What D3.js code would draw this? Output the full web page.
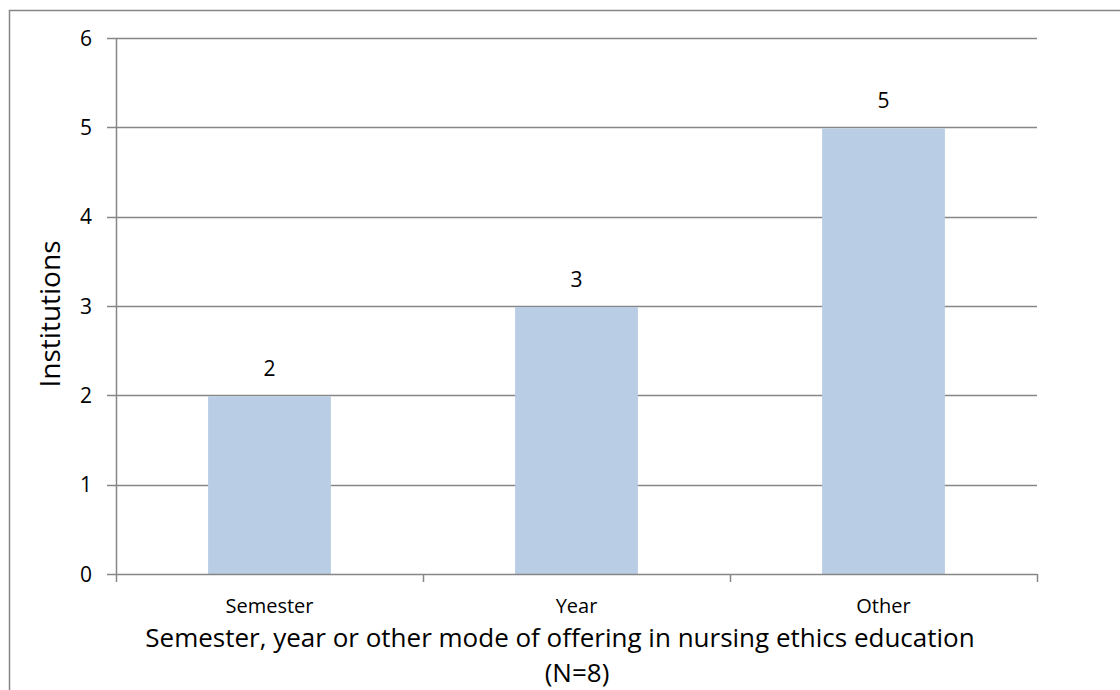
<!DOCTYPE html>
<html>
<head>
<meta charset="utf-8">
<script src="https://cdn.jsdelivr.net/npm/d3@7"></script>
<style>
  body { margin: 0; background: #fff; }
  svg text { font-family: "Open Sans", "Noto Sans", sans-serif; fill: #000; }
</style>
</head>
<body>
<div id="chart"></div>
<script>
var categories = ["Semester", "Year", "Other"];
var values = [2, 3, 5];
var yTicks = [0, 1, 2, 3, 4, 5, 6];
var xTitle = ["Semester, year or other mode of offering in nursing ethics education", "(N=8)"];
var yTitle = "Institutions";

var width = 1120, height = 690;
var margin = {top: 38, right: 83, bottom: 116, left: 116};

var svg = d3.select("#chart").append("svg")
    .attr("width", width)
    .attr("height", height);

// outer chart border (runs off the right and bottom edges)
svg.append("rect")
    .attr("x", 9.5).attr("y", 10.5)
    .attr("width", width + 20).attr("height", height + 20)
    .style("fill", "none")
    .style("stroke", "#868686")
    .style("stroke-width", 1.5);

var x = d3.scaleBand()
    .domain(categories)
    .range([margin.left, width - margin.right])
    .paddingInner(0.6)
    .paddingOuter(0.3);

var y = d3.scaleLinear()
    .domain([0, 6])
    .range([height - margin.bottom, margin.top]);

// gridlines
svg.append("g")
    .selectAll("line")
    .data(yTicks.filter(function(d){ return d > 0 }))
    .enter()
    .append("line")
      .attr("x1", margin.left - 9)
      .attr("x2", width - margin.right)
      .attr("y1", function(d){ return Math.round(y(d)) + 0.5 })
      .attr("y2", function(d){ return Math.round(y(d)) + 0.5 })
      .style("stroke", "#868686")
      .style("stroke-width", 1.5);

// bars
svg.selectAll("rect.bar")
    .data(values)
    .enter()
    .append("rect")
      .attr("class", "bar")
      .attr("x", function(d, i){ return x(categories[i]) })
      .attr("y", function(d){ return y(d) + 1 })
      .attr("width", x.bandwidth())
      .attr("height", function(d){ return y(0) - y(d) - 1 })
      .style("fill", "#B9CDE5");

// y axis line
svg.append("line")
    .attr("x1", margin.left + 0.5).attr("x2", margin.left + 0.5)
    .attr("y1", margin.top).attr("y2", y(0))
    .style("stroke", "#868686")
    .style("stroke-width", 1.5);

// x axis line
svg.append("line")
    .attr("x1", margin.left - 9).attr("x2", width - margin.right)
    .attr("y1", Math.round(y(0)) + 0.5).attr("y2", Math.round(y(0)) + 0.5)
    .style("stroke", "#868686")
    .style("stroke-width", 1.5);

// x ticks at category boundaries
var xBounds = [0, 1, 2, 3].map(function(i){ return margin.left + i * x.step() });
svg.append("g")
    .selectAll("line")
    .data(xBounds)
    .enter()
    .append("line")
      .attr("x1", function(d){ return Math.round(d) + 0.5 })
      .attr("x2", function(d){ return Math.round(d) + 0.5 })
      .attr("y1", y(0))
      .attr("y2", y(0) + 8)
      .style("stroke", "#868686")
      .style("stroke-width", 1.5);

// y tick labels
svg.append("g")
    .selectAll("text")
    .data(yTicks)
    .enter()
    .append("text")
      .attr("x", 92)
      .attr("y", function(d){ return y(d) })
      .attr("dy", "0.36em")
      .attr("text-anchor", "end")
      .attr("font-size", "21px")
      .text(function(d){ return d });

// category labels
svg.append("g")
    .selectAll("text")
    .data(categories)
    .enter()
    .append("text")
      .attr("x", function(d){ return x(d) + x.bandwidth() / 2 })
      .attr("y", 613)
      .attr("text-anchor", "middle")
      .attr("font-size", "20px")
      .text(function(d){ return d });

// value labels
svg.append("g")
    .selectAll("text")
    .data(values)
    .enter()
    .append("text")
      .attr("x", function(d, i){ return x(categories[i]) + x.bandwidth() / 2 })
      .attr("y", function(d){ return y(d) - 19 })
      .attr("text-anchor", "middle")
      .attr("font-size", "21px")
      .text(function(d){ return d });

// x axis title (two lines)
svg.append("g")
    .selectAll("text")
    .data(xTitle)
    .enter()
    .append("text")
      .attr("x", function(d, i){ return i == 0 ? 560 : 577 })
      .attr("y", function(d, i){ return 647 + i * 35 })
      .attr("text-anchor", "middle")
      .attr("font-size", "26px")
      .text(function(d){ return d });

// y axis title
svg.append("text")
    .attr("transform", "translate(60," + 314 + ") rotate(-90)")
    .attr("text-anchor", "middle")
    .attr("font-size", "28px")
    .text(yTitle);
</script>
</body>
</html>
